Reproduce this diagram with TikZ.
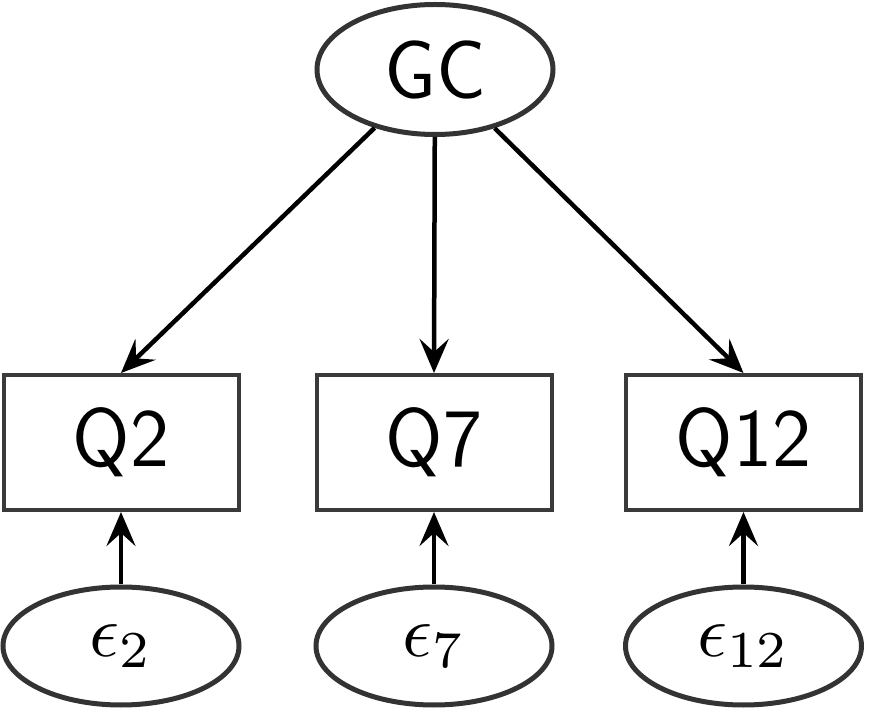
\documentclass[tikz,border=0pt]{standalone}
\usepackage{graphicx}
\usetikzlibrary{arrows.meta,shapes.geometric}
\definecolor{edgegray}{HTML}{333333}
\definecolor{boxgray}{HTML}{3A3A3A}
\newcommand{\errlab}[1]{\scalebox{7.4}{$\epsilon_{#1}$}}
\begin{document}
\begin{tikzpicture}[x=1pt,y=-1pt,
  latent/.style={ellipse,draw=edgegray,line width=5pt,inner sep=0pt},
  obs/.style={rectangle,draw=boxgray,line width=4pt,minimum width=235pt,minimum height=135pt,inner sep=0pt,
    font=\fontsize{83}{90}\selectfont\sffamily},
  errnode/.style={latent,minimum width=236pt,minimum height=118pt},
  arr/.style={line width=4.5pt,-{Stealth[length=34pt,width=29pt,inset=13pt]}}]
\useasboundingbox (0,0) rectangle (871,708);
\node[latent,minimum width=236pt,minimum height=130pt,font=\fontsize{83}{90}\selectfont\sffamily] (GC) at (435,69.5) {GC};
\node[obs] (Q2) at (121,442.5) {Q2};
\node[obs] (Q7) at (434,442.5) {Q7};
\node[obs] (Q12) at (743.5,442.5) {Q12};
\node[errnode] (e2) at (121,646) {\errlab{2}};
\node[errnode] (e7) at (434,646) {\errlab{7}};
\node[errnode] (e12) at (743.5,646) {\errlab{12}};
\draw[arr] (GC) -- (Q2.north);
\draw[arr] (GC) -- (Q7.north);
\draw[arr] (GC) -- (Q12.north);
\draw[arr] (e2) -- (Q2.south);
\draw[arr] (e7) -- (Q7.south);
\draw[arr] (e12) -- (Q12.south);
\end{tikzpicture}
\end{document}
